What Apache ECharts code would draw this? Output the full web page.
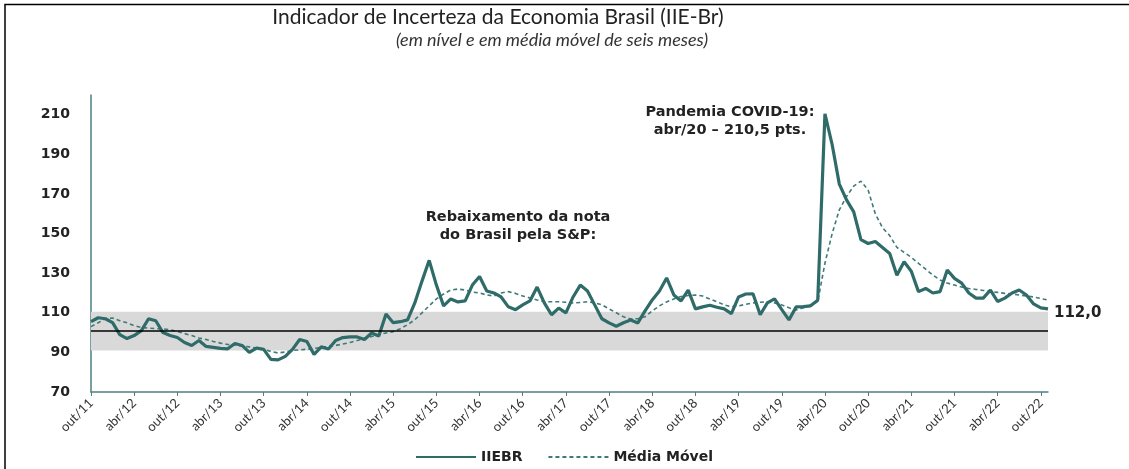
<!DOCTYPE html>
<html>
<head>
<meta charset="utf-8">
<script src="https://cdn.jsdelivr.net/npm/echarts@6/dist/echarts.min.js"></script>
<style>
  html, body { margin: 0; padding: 0; background: #fff; }
  #main { width: 1129px; height: 469px; }
</style>
</head>
<body>
<div id="main"></div>
<script>
// meses de out/11 a nov/22
const meses = ["jan", "fev", "mar", "abr", "mai", "jun", "jul", "ago", "set", "out", "nov", "dez"];
const categorias = [];
for (let k = 0; k < 134; k++) {
  const m = (9 + k) % 12;
  const a = 11 + Math.floor((9 + k) / 12);
  categorias.push(meses[m] + "/" + a);
}

// IIE-Br em nível
const iiebr = [
  105.5, 107.5, 107, 105, 99, 97, 98.5, 101, 107, 106,
  100, 98.5, 97.5, 95, 93.5, 96, 93, 92.5, 92, 91.8,
  94.5, 93.5, 90, 92.2, 91.5, 86.5, 86.2, 88, 91.5, 96.5,
  95.5, 89, 92.8, 91.7, 96, 97.5, 97.8, 97.8, 96.5, 99.8,
  98.3, 109.4, 105, 105.5, 106.4, 115, 126, 136.5, 124, 113.5,
  117, 115.5, 116, 124, 128.3, 121, 120, 118, 113, 111.6,
  114, 116, 123, 115, 109, 112.4, 110, 118, 124, 121,
  114, 107, 104.9, 103.2, 105, 106.4, 104.9, 111, 116.5, 121,
  127.6, 119, 116, 121.5, 112, 113, 113.8, 112.8, 112, 109.6,
  118, 119.5, 119.6, 109, 115, 117, 111.6, 106.4, 113, 113.1,
  113.5, 116.4, 210.5, 195, 175, 167, 161, 147, 145, 146,
  143, 140, 129, 135.8, 131, 120.7, 122.3, 120, 120.7, 131.6,
  127.4, 125, 120, 117.4, 117.4, 121.5, 115.7, 117.4, 120, 121.5,
  119, 114.5, 112.5, 112.0
];

// media movel de seis meses
const mediaMovel = [
  103, 105, 107, 107.4, 106, 105, 103.5, 102.6, 102.3, 102,
  101.8, 101.5, 100.5, 99.5, 98.5, 97.3, 96.5, 95.5, 94.7, 94,
  93.7, 93.2, 92.8, 92.2, 91.5, 90.5, 89.7, 90.2, 91, 91.3,
  91.6, 92, 92.5, 93, 93.5, 94.2, 95, 96, 97, 98,
  99, 99.8, 100.5, 102, 104, 106.5, 110, 113.5, 117, 119.5,
  121.5, 122, 121.5, 120.5, 120, 119, 118.5, 120, 120.7, 119.8,
  118.5, 117.5, 116.5, 115.6, 115.6, 115.6, 115.3, 115, 115.2, 115.6,
  115, 114, 112, 110, 108, 106.9, 107, 108, 111, 113.5,
  115.5, 117, 118.2, 118.7, 119, 118.5, 117, 115.6, 114, 113.1,
  113.5, 114.3, 115, 115.3, 115.6, 115, 114, 112.5, 111.4, 112.5,
  114, 115.6, 135, 150, 162, 168.7, 174, 176.5, 172, 160,
  153, 149, 143, 140.5, 138, 135, 132, 129, 126.6, 125,
  124, 123, 122.3, 121.8, 121.3, 120.8, 120.3, 119.8, 119.5, 119,
  118.5, 118, 117.2, 116.4
];

// faixa de +/- 1 desvio em torno da media historica
const mediaHistorica = 100.7;
const faixa = [90.9, 110.5];

const corLinha = "#2f6b69";

var chartDom = document.getElementById("main");
var myChart = echarts.init(chartDom);
var option = {
  animation: false,
  grid: { left: 91, right: 81, top: 95, bottom: 77 },
  graphic: [
    {
      type: "polyline",
      shape: { points: [[5, 469], [5, 4.5], [1129, 4.5]] },
      style: { stroke: "#000", lineWidth: 1.5, fill: null }
    },
    {
      type: "text",
      x: 498,
      y: 7,
      style: {
        text: "Indicador de Incerteza da Economia Brasil (IIE-Br)",
        font: "21px Lato",
        fill: "#222",
        align: "center"
      }
    },
    {
      type: "text",
      x: 552,
      y: 31,
      style: {
        text: "(em nível e em média móvel de seis meses)",
        font: "italic 18px Lato",
        fill: "#333",
        align: "center"
      }
    },
    {
      type: "text",
      x: 730,
      y: 103,
      style: {
        text: "Pandemia COVID-19:\nabr/20 – 210,5 pts.",
        font: "bold 14.5px 'DejaVu Sans'",
        fill: "#222",
        align: "center",
        lineHeight: 18
      }
    },
    {
      type: "text",
      x: 518,
      y: 208,
      style: {
        text: "Rebaixamento da nota\ndo Brasil pela S&P:",
        font: "bold 14.5px 'DejaVu Sans'",
        fill: "#222",
        align: "center",
        lineHeight: 18
      }
    }
  ],
  legend: {
    left: 410,
    bottom: 0,
    itemWidth: 60,
    itemHeight: 12,
    itemGap: 25,
    itemStyle: { opacity: 0 },
    textStyle: { fontFamily: "DejaVu Sans", fontSize: 14, fontWeight: "bold", color: "#222" },
    data: ["IIEBR", "Média Móvel"]
  },
  xAxis: {
    type: "category",
    boundaryGap: false,
    data: categorias,
    axisLine: { lineStyle: { color: "#4d8180", width: 1.5 } },
    axisTick: { interval: 5, length: 4, lineStyle: { color: "#4d8180" } },
    axisLabel: {
      interval: 5,
      rotate: 45,
      margin: 9,
      fontFamily: "Lato",
      fontSize: 13,
      color: "#333"
    },
    splitLine: { show: false }
  },
  yAxis: {
    type: "value",
    min: 70,
    max: 220,
    interval: 20,
    axisLine: { show: true, lineStyle: { color: "#4d8180", width: 1.5 } },
    axisTick: { show: false },
    splitLine: { show: false },
    axisLabel: {
      margin: 21,
      fontFamily: "DejaVu Sans",
      fontWeight: "bold",
      fontSize: 14,
      color: "#222",
      formatter: v => (v > 210 ? "" : v)
    }
  },
  series: [
    {
      name: "IIEBR",
      type: "line",
      data: iiebr,
      symbol: "none",
      z: 3,
      lineStyle: { color: corLinha, width: 3.2 },
      itemStyle: { color: corLinha },
      endLabel: {
        show: true,
        distance: 6,
        offset: [0, 4],
        fontFamily: "DejaVu Sans",
        fontWeight: "bold",
        fontSize: 15,
        color: "#222",
        formatter: p => p.value.toFixed(1).replace(".", ",")
      },
      markArea: {
        silent: true,
        itemStyle: { color: "#d9d9d9" },
        data: [[{ yAxis: faixa[0] }, { yAxis: faixa[1] }]]
      },
      markLine: {
        silent: true,
        symbol: "none",
        label: { show: false },
        lineStyle: { color: "#000", width: 1.5, type: "solid" },
        data: [{ yAxis: mediaHistorica }]
      }
    },
    {
      name: "Média Móvel",
      type: "line",
      data: mediaMovel,
      symbol: "none",
      z: 2,
      lineStyle: { color: "#3f7a78", width: 1.6, type: [4, 3] },
      itemStyle: { color: "#3f7a78" }
    }
  ]
};

if (option && typeof option === "object") {
  myChart.setOption(option);
}
</script>
</body>
</html>
